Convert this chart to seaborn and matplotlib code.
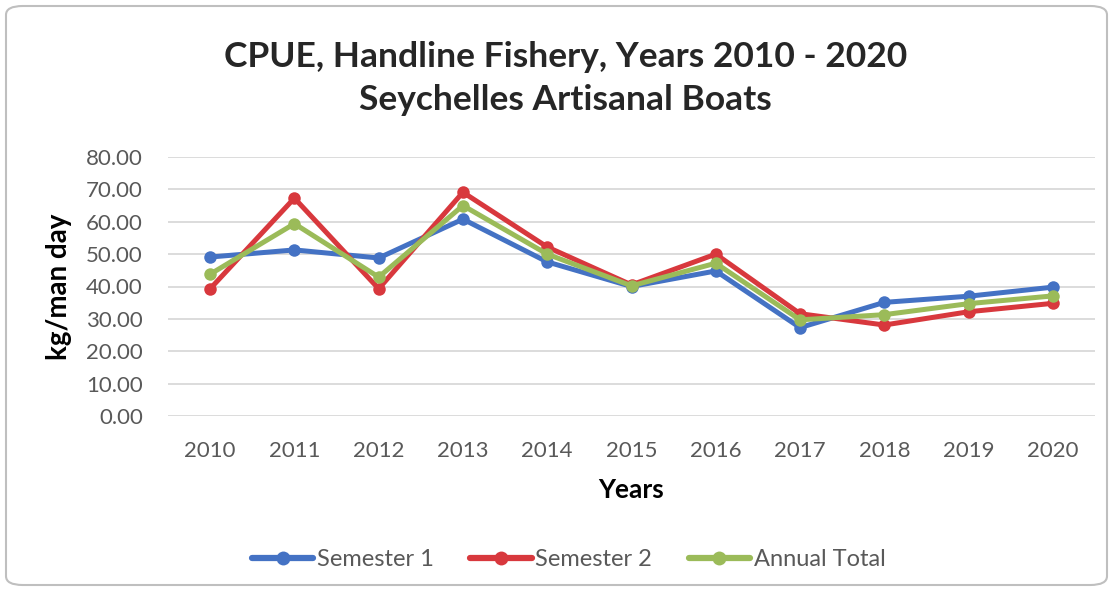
import numpy as np
import pandas as pd
import matplotlib
matplotlib.use("Agg")
import matplotlib.pyplot as plt
from matplotlib.patches import FancyBboxPatch
import seaborn as sns

years = ['2010', '2011', '2012', '2013', '2014', '2015', '2016', '2017', '2018', '2019', '2020']
semester_1 = [49.1, 51.3, 48.8, 60.8, 47.6, 40.0, 44.8, 27.3, 35.1, 37.0, 39.8]
semester_2 = [39.3, 67.3, 39.3, 69.1, 52.2, 40.5, 50.0, 31.6, 28.1, 32.2, 34.8]
annual_total = [43.8, 59.4, 42.9, 65.0, 50.0, 40.2, 47.2, 29.7, 31.3, 34.7, 37.1]
series_names = ['Semester 1', 'Semester 2', 'Annual Total']
colors = ['#4472C4', '#D8383D', '#9BBB59']

df = pd.DataFrame({'Years': years * 3,
                   'value': semester_1 + semester_2 + annual_total,
                   'series': [s for s in series_names for _ in years]})
df['pos'] = df['Years'].map({y: i for i, y in enumerate(years)})

sns.set_style('white')
plt.rcParams['font.family'] = ['Lato', 'DejaVu Sans']

fig = plt.figure(figsize=(11.13, 5.91), dpi=100)
ax = fig.add_axes([168 / 1113, 1 - 416 / 591, (1095 - 168) / 1113, (416 - 157) / 591])

sns.lineplot(data=df, x='pos', y='value', hue='series', palette=colors,
             marker='o', markersize=9, linewidth=3.6, markeredgewidth=0,
             ax=ax, legend=False)

ax.set_xlim(-0.5, len(years) - 0.5)
ax.set_ylim(0, 80)
ax.set_yticks(np.arange(0, 81, 10))
ax.set_yticklabels([f'{v:.2f}' for v in np.arange(0, 81, 10)])
ax.set_xticks(range(len(years)))
ax.set_xticklabels(years)
ax.tick_params(axis='both', length=0, labelsize=16, labelcolor='#595959')
ax.tick_params(axis='x', pad=18)
ax.tick_params(axis='y', pad=18)
ax.grid(axis='y', color='#D9D9D9', linewidth=1.3)
for s in ax.spines.values():
    s.set_visible(False)
ax.set_xlabel('Years', fontsize=19, fontweight='bold', color='black', labelpad=12)
ax.set_ylabel('kg/man day', fontsize=20, fontweight='bold', color='black', labelpad=10)

fig.text(0.508, 1 - 57 / 591, 'CPUE, Handline Fishery, Years 2010 - 2020',
         ha='center', va='center', fontsize=25.5, fontweight='bold')
fig.text(0.508, 1 - 100 / 591, 'Seychelles Artisanal Boats',
         ha='center', va='center', fontsize=25.5, fontweight='bold')

handles = [plt.Line2D([], [], color=c, lw=4.5, marker='o', markersize=10, markeredgewidth=0)
           for c in colors]
fig.legend(handles, series_names, loc='center', bbox_to_anchor=(0.511, 1 - 560 / 591),
           ncol=3, frameon=False, fontsize=17, handlelength=2.6, handletextpad=0.15,
           columnspacing=1.55, labelcolor='#595959')

border = FancyBboxPatch((6 / 1113, 6 / 591), 1 - 12 / 1113, 1 - 12 / 591,
                        boxstyle='round,pad=0,rounding_size=0.015',
                        transform=fig.transFigure, facecolor='none',
                        edgecolor='#BFBFBF', linewidth=1.5)
fig.patches.append(border)

fig.savefig('out.png', dpi=100)
